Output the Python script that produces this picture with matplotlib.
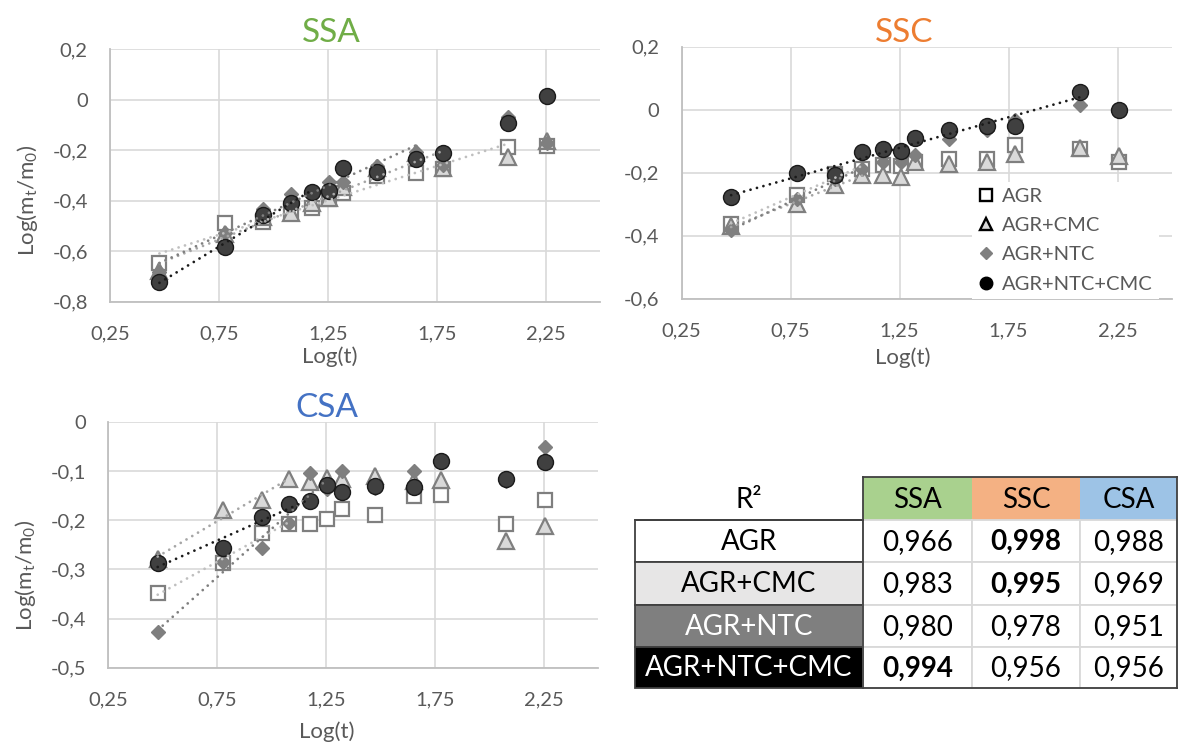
import numpy as np
import matplotlib
matplotlib.use('Agg')
import matplotlib.pyplot as plt
from matplotlib.lines import Line2D
from matplotlib.patches import Rectangle
from matplotlib.ticker import FixedLocator, FuncFormatter

plt.rcParams['font.family'] = ['Lato', 'DejaVu Sans']

# ---------------- data ----------------
log_t = [0.477, 0.778, 0.954, 1.079, 1.176, 1.255, 1.322, 1.477, 1.653, 1.778, 2.079, 2.255]
series_names = ['AGR', 'AGR+CMC', 'AGR+NTC', 'AGR+NTC+CMC']

ssa_agr = [-0.648, -0.489, -0.483, -0.443, -0.430, -0.394, -0.371, -0.302, -0.289, -0.275, -0.188, -0.183]
ssa_cmc = [-0.680, -0.530, -0.465, -0.447, -0.410, -0.390, -0.344, -0.272, -0.210, -0.272, -0.228, -0.162]
ssa_ntc = [-0.681, -0.529, -0.434, -0.373, -0.360, -0.325, -0.325, -0.262, -0.206, -0.260, -0.070, -0.170]
ssa_nc = [-0.723, -0.582, -0.457, -0.408, -0.367, -0.361, -0.269, -0.285, -0.236, -0.212, -0.093, 0.015]

ssc_agr = [-0.362, -0.272, -0.203, -0.187, -0.176, -0.179, -0.166, -0.158, -0.155, -0.113, -0.126, -0.166]
ssc_cmc = [-0.370, -0.298, -0.240, -0.208, -0.208, -0.215, -0.166, -0.171, -0.166, -0.141, -0.123, -0.148]
ssc_ntc = [-0.381, -0.285, -0.220, -0.187, -0.166, -0.166, -0.144, -0.094, -0.065, -0.033, 0.015, -0.005]
ssc_nc = [-0.277, -0.200, -0.208, -0.134, -0.126, -0.132, -0.091, -0.063, -0.052, -0.052, 0.057, -0.001]

csa_agr = [-0.349, -0.287, -0.226, -0.207, -0.207, -0.198, -0.177, -0.189, -0.150, -0.149, -0.207, -0.160]
csa_cmc = [-0.280, -0.179, -0.159, -0.116, -0.122, -0.115, -0.116, -0.111, -0.120, -0.118, -0.243, -0.211]
csa_ntc = [-0.428, -0.285, -0.257, -0.206, -0.105, -0.137, -0.101, -0.135, -0.101, -0.080, -0.120, -0.051]
csa_nc = [-0.287, -0.257, -0.194, -0.167, -0.162, -0.128, -0.143, -0.130, -0.132, -0.080, -0.116, -0.082]

ssa_fit_n = [11, 10, 9, 5]
ssc_fit_n = [4, 4, 4, 11]
csa_fit_n = [4, 4, 6, 5]

x_ticks = [0.25, 0.75, 1.25, 1.75, 2.25]
ssa_yticks = [-0.8, -0.6, -0.4, -0.2, 0.0, 0.2]
ssc_yticks = [-0.6, -0.4, -0.2, 0.0, 0.2]
csa_yticks = [-0.5, -0.4, -0.3, -0.2, -0.1, 0.0]

r2_cols = ['SSA', 'SSC', 'CSA']
r2_values = [[0.966, 0.998, 0.988],
             [0.983, 0.995, 0.969],
             [0.980, 0.978, 0.951],
             [0.994, 0.956, 0.956]]
r2_bold = [[False, True, False],
           [False, True, False],
           [False, False, False],
           [True, False, False]]

# ---------------- styles ----------------
W, H = 1178, 745
fig = plt.figure(figsize=(W / 100, H / 100), dpi=100)

marker_styles = [
    dict(marker='s', markersize=10, markerfacecolor='white', markeredgecolor='#7f7f7f', markeredgewidth=1.6),
    dict(marker='^', markersize=11, markerfacecolor='#d9d9d9', markeredgecolor='#7f7f7f', markeredgewidth=1.6),
    dict(marker='D', markersize=7.5, markerfacecolor='#7f7f7f', markeredgecolor='#7f7f7f', markeredgewidth=1.0),
    dict(marker='o', markersize=11.5, markerfacecolor='#404040', markeredgecolor='#1a1a1a', markeredgewidth=1.0),
]
trend_colors = ['#bfbfbf', '#a6a6a6', '#7f7f7f', '#1a1a1a']
tick_color = '#595959'
grid_color = '#d9d9d9'
TICK_FS = 14.5


def fmt_comma(v, pos=None):
    if abs(v) < 1e-9:
        return '0'
    s = ('%.2f' % v).rstrip('0').rstrip('.')
    return s.replace('.', ',')


def make_ax(l, t, r, b):
    return fig.add_axes([l / W, 1 - b / H, (r - l) / W, (b - t) / H])


def draw_panel(ax, series, fit_ns, yticks):
    for ys, st in zip(series, marker_styles):
        ax.plot(log_t, ys, linestyle='none', zorder=3, **st)
    for ys, n, c in zip(series, fit_ns, trend_colors):
        xs = np.array(log_t[:n])
        coef = np.polyfit(xs, np.array(ys[:n]), 1)
        xx = np.array([xs[0], xs[-1]])
        ax.plot(xx, np.polyval(coef, xx), color=c, linewidth=2.0,
                linestyle=(0, (0.01, 2.4)), dash_capstyle='round', zorder=4)
    ax.set_xlim(0.25, 2.5)
    ax.set_ylim(yticks[0], yticks[-1])
    ax.xaxis.set_major_locator(FixedLocator(x_ticks))
    ax.yaxis.set_major_locator(FixedLocator(yticks))
    ax.xaxis.set_major_formatter(FuncFormatter(fmt_comma))
    ax.yaxis.set_major_formatter(FuncFormatter(fmt_comma))
    ax.grid(True, color=grid_color, linewidth=1.2, zorder=0)
    ax.set_axisbelow(True)
    for s in ['top', 'right']:
        ax.spines[s].set_visible(False)
    for s in ['left', 'bottom']:
        ax.spines[s].set_color('#bfbfbf')
        ax.spines[s].set_linewidth(1.3)
    ax.tick_params(axis='x', length=0, pad=17, labelsize=TICK_FS, labelcolor=tick_color)
    ax.tick_params(axis='y', length=0, pad=16, labelsize=TICK_FS, labelcolor=tick_color)
    for lab in ax.get_xticklabels() + ax.get_yticklabels():
        lab.set_clip_on(False)


ax1 = make_ax(110, 49.3, 600, 301.7)
draw_panel(ax1, [ssa_agr, ssa_cmc, ssa_ntc, ssa_nc], ssa_fit_n, ssa_yticks)
ax2 = make_ax(681.7, 46.7, 1172, 298.7)
draw_panel(ax2, [ssc_agr, ssc_cmc, ssc_ntc, ssc_nc], ssc_fit_n, ssc_yticks)
ax3 = make_ax(108.3, 421.7, 598, 667.7)
draw_panel(ax3, [csa_agr, csa_cmc, csa_ntc, csa_nc], csa_fit_n, csa_yticks)


def ftext(x, y, s, **kw):
    fig.text(x / W, 1 - y / H, s, **kw)


ftext(331, 33, 'SSA', color='#70ad47', fontsize=24, ha='center', va='center')
ftext(904, 33, 'SSC', color='#ed7d31', fontsize=24, ha='center', va='center')
ftext(327, 408, 'CSA', color='#4472c4', fontsize=24, ha='center', va='center')

for (x, y) in [(330, 357), (903, 358), (327, 732)]:
    ftext(x, y, 'Log(t)', color=tick_color, fontsize=16, ha='center', va='center')
for (x, y) in [(27, 200), (26, 575)]:
    ftext(x, y, 'Log(m$_\\mathregular{t}$/m$_\\mathregular{0}$)', color=tick_color, fontsize=16,
          ha='center', va='center', rotation=90)

# legend
leg_handles = [
    Line2D([], [], linestyle='none', marker='s', markersize=8, markerfacecolor='white', markeredgecolor='black', markeredgewidth=1.7),
    Line2D([], [], linestyle='none', marker='^', markersize=8.5, markerfacecolor='#d9d9d9', markeredgecolor='black', markeredgewidth=1.7),
    Line2D([], [], linestyle='none', marker='D', markersize=6.5, markerfacecolor='#7f7f7f', markeredgecolor='#7f7f7f'),
    Line2D([], [], linestyle='none', marker='o', markersize=9, markerfacecolor='black', markeredgecolor='black'),
]
leg = ax2.legend(leg_handles, series_names, loc='upper left',
                 bbox_to_anchor=(971.7 / W, 1 - 182 / H), bbox_transform=fig.transFigure,
                 frameon=True, facecolor='white', edgecolor='none', framealpha=1, fancybox=False,
                 borderpad=0.3, borderaxespad=0, handlelength=0.8, handletextpad=0.4,
                 labelspacing=0.6, fontsize=TICK_FS)
for t in leg.get_texts():
    t.set_color(tick_color)
leg.set_zorder(10)

# ---------------- table ----------------
tab = fig.add_axes([0, 0, 1, 1])
tab.set_xlim(0, W)
tab.set_ylim(H, 0)
tab.axis('off')

col_edges = [635, 863, 972, 1080, 1177]
row_edges = [477, 520, 562, 605, 647, 688]
head_fills = ['#a9d18e', '#f4b183', '#9dc3e6']
label_fills = ['white', '#e7e6e6', '#7f7f7f', 'black']
label_colors = ['black', 'black', 'white', 'white']
dark = '#404040'

# header
tab.text((col_edges[0] + col_edges[1]) / 2, (row_edges[0] + row_edges[1]) / 2 + 1, 'R²',
         fontsize=20, ha='center', va='center', color='black')
for j, (name, fc) in enumerate(zip(r2_cols, head_fills)):
    x0, x1 = col_edges[j + 1], col_edges[j + 2]
    tab.add_patch(Rectangle((x0, row_edges[0]), x1 - x0, row_edges[1] - row_edges[0],
                            facecolor=fc, edgecolor='none'))
    tab.text((x0 + x1) / 2, (row_edges[0] + row_edges[1]) / 2 + 1, name, fontsize=20,
             ha='center', va='center', color='black')

for i, name in enumerate(series_names):
    y0, y1 = row_edges[i + 1], row_edges[i + 2]
    yc = (y0 + y1) / 2 + 1
    tab.add_patch(Rectangle((col_edges[0], y0), col_edges[1] - col_edges[0], y1 - y0,
                            facecolor=label_fills[i], edgecolor=dark, linewidth=1.3))
    tab.text((col_edges[0] + col_edges[1]) / 2, yc, name, fontsize=20, ha='center', va='center',
             color=label_colors[i])
    for j in range(3):
        x0, x1 = col_edges[j + 1], col_edges[j + 2]
        tab.add_patch(Rectangle((x0, y0), x1 - x0, y1 - y0, facecolor='white',
                                edgecolor='#d9d9d9', linewidth=1.3))
        s = ('%.3f' % r2_values[i][j]).replace('.', ',')
        tab.text((x0 + x1) / 2, yc, s, fontsize=20, ha='center', va='center', color='black',
                 fontweight='bold' if r2_bold[i][j] else 'normal')

# outer dark borders
tab.plot([col_edges[1], col_edges[-1]], [row_edges[0], row_edges[0]], color=dark, lw=1.3)
tab.plot([col_edges[1], col_edges[1]], [row_edges[0], row_edges[-1]], color=dark, lw=1.3)
tab.plot([col_edges[1], col_edges[-1]], [row_edges[-1], row_edges[-1]], color=dark, lw=1.3)
tab.plot([col_edges[-1], col_edges[-1]], [row_edges[0], row_edges[-1]], color=dark, lw=1.3)
tab.plot([col_edges[0], col_edges[1]], [row_edges[1], row_edges[1]], color=dark, lw=1.3)

fig.savefig('out.png', dpi=100)
